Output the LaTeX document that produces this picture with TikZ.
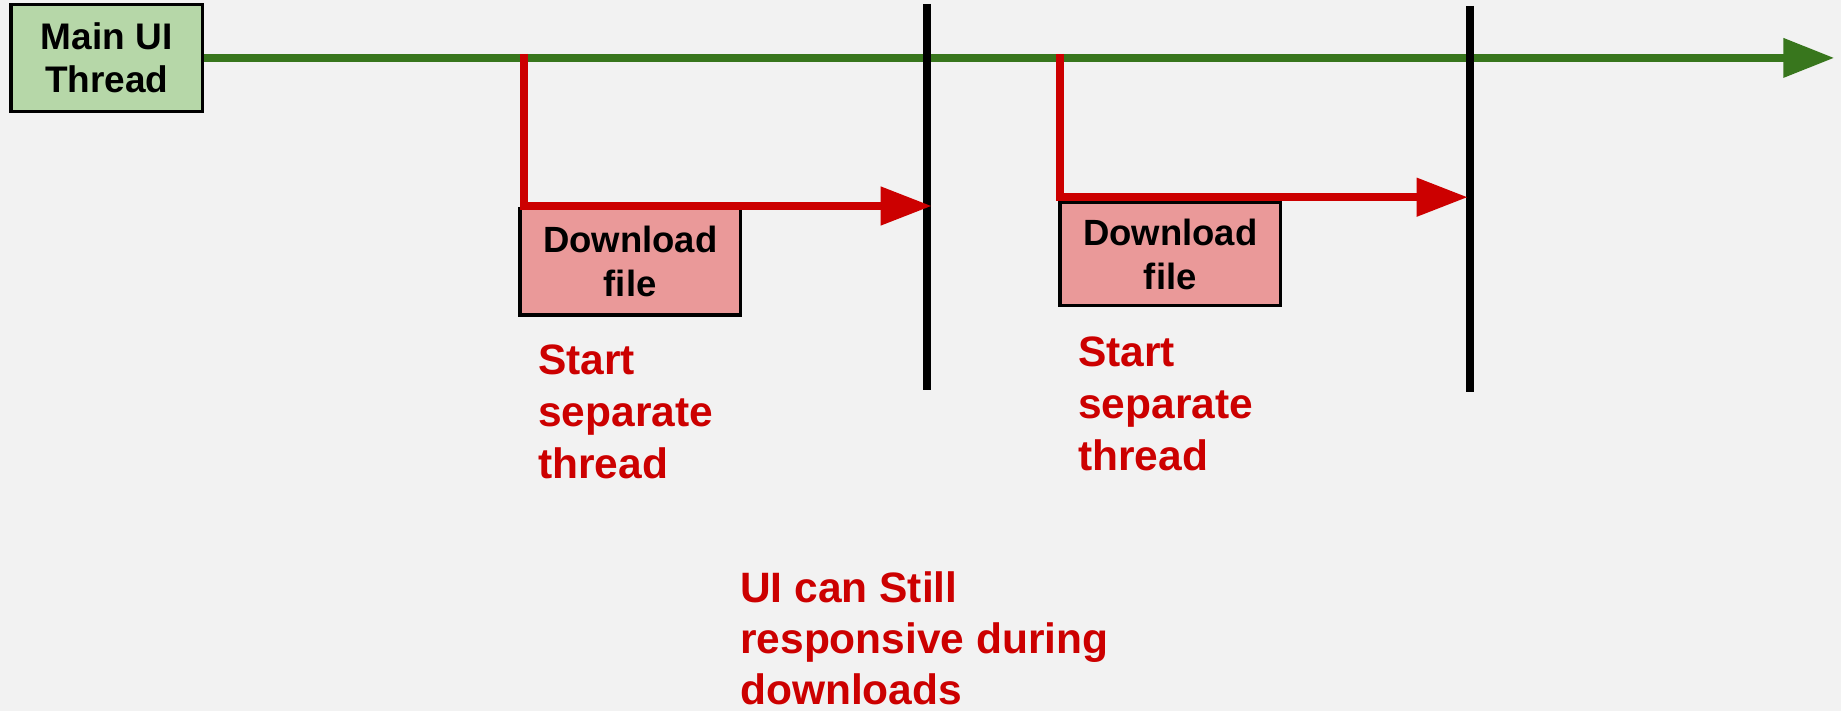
\documentclass[tikz,border=0pt]{standalone}
\usepackage{fontspec}
\setmainfont{Liberation Sans}
\usetikzlibrary{arrows.meta}
\definecolor{bg}{HTML}{F2F2F2}
\definecolor{thrgreen}{HTML}{38761D}
\definecolor{boxgreen}{HTML}{B6D7A8}
\definecolor{boxpink}{HTML}{EA9999}
\definecolor{lblred}{HTML}{CC0000}
\begin{document}
\begin{tikzpicture}[x=1pt,y=-1pt,
  box/.style={draw=black, line width=3.2pt, inner sep=0pt, align=center},
  mainbox/.style={box, fill=boxgreen, minimum width=191.5pt, minimum height=107.5pt,
    font=\bfseries\fontsize{37}{42.6}\selectfont},
  dlbox/.style={box, fill=boxpink, minimum width=220.3pt,
    font=\bfseries\fontsize{36.5}{44.4}\selectfont},
  lbl/.style={text=lblred, align=left, inner sep=0pt, anchor=north west,
    font=\bfseries\fontsize{42.5}{52}\selectfont},
  mainline/.style={draw=thrgreen, line width=8pt, -{Triangle[length=51pt,width=37.7pt]}},
  branch/.style={draw=lblred, line width=7.6pt, line join=miter, -{Triangle[length=51pt,width=37pt]}},
  barrier/.style={draw=black, line width=8.3pt}
]
\useasboundingbox (0,0) rectangle (1841,711);
\fill[bg] (0,0) rectangle (1841,711);

% nodes
\node[mainbox] (main) at (106.7,57.9) {Main UI\\Thread};
\node[dlbox, minimum height=106.7pt] (dl1) at (630.2,261.7) {Download\\file};
\node[dlbox, minimum height=103pt] (dl2) at (1170.2,254.2) {Download\\file};

% coordinates
\coordinate (gtip) at (1834.3,57.9);
\coordinate (s1) at (523.7,54);
\coordinate (e1) at (931.7,206);
\coordinate (s2) at (1059.7,54);
\coordinate (e2) at (1467.7,197.2);
\coordinate (b1t) at (927,4);
\coordinate (b1b) at (927,390);
\coordinate (b2t) at (1470,6);
\coordinate (b2b) at (1470,391.7);

% main thread
\draw[mainline] (main.east) -- (gtip);

% barriers
\draw[barrier] (b1t) -- (b1b);
\draw[barrier] (b2t) -- (b2b);

% branches
\draw[branch] (s1) |- (e1);
\draw[branch] (s2) |- (e2);

% labels
\node[lbl] (lbl1) at (538,345) {Start\\separate\\thread};
\node[lbl] (lbl2) at (1078,336.7) {Start\\separate\\thread};
\node[lbl, font=\bfseries\fontsize{42.5}{51}\selectfont] (lbl3) at (740,571.7) {UI can Still\\responsive during\\downloads};
\end{tikzpicture}
\end{document}
